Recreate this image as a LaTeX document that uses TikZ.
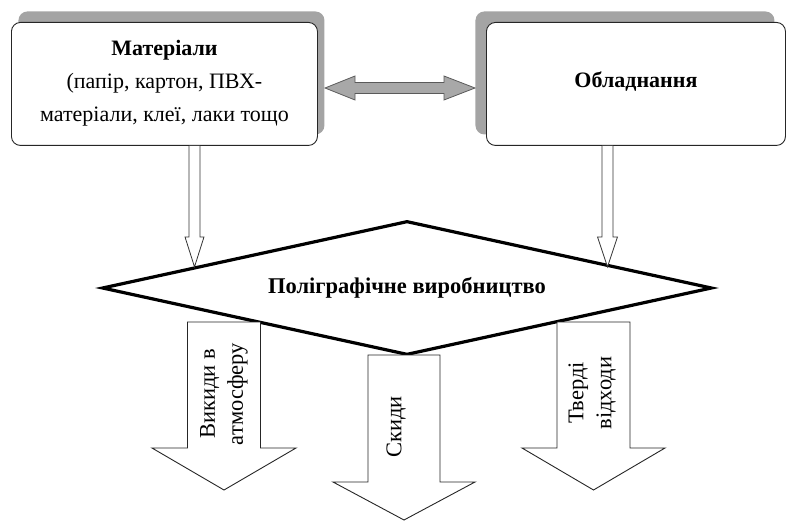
\documentclass[tikz,border=0pt]{standalone}
\usepackage{fontspec}
\setmainfont{Liberation Serif}
\usetikzlibrary{shapes.geometric,shadows,calc}
\definecolor{shadowgray}{HTML}{A4A4A4}
\definecolor{arrgray}{HTML}{A8A8A8}
\definecolor{arrline}{HTML}{5A5A5A}
\tikzset{
  box/.style={draw=black!85, line width=0.9pt, fill=white, rounded corners=9pt,
    minimum height=123pt, anchor=north west, align=center, inner sep=0pt,
    font=\fontsize{22}{33}\selectfont},
  thinarr/.style={draw=black!80, line width=0.8pt, fill=white},
  bigarr/.style={draw=black!85, line width=0.9pt, fill=white},
  arrtext/.style={rotate=90, align=center, inner sep=0pt,
    font=\fontsize{22.5}{28}\selectfont},
  dblarr/.style={draw=arrline, line width=0.8pt, fill=arrgray},
  proc/.style={diamond, aspect=4.55, draw=black, line width=3.2pt, fill=white,
    minimum width=610pt, minimum height=134pt, inner sep=0pt,
    font=\bfseries\fontsize{22.5}{26}\selectfont}
}
\begin{document}
\begin{tikzpicture}[x=1pt,y=-1pt]
\useasboundingbox (0,0) rectangle (786,521);
% boxes
\node[box, minimum width=306pt,
  general shadow={fill=shadowgray, shadow xshift=7pt, shadow yshift=11pt}]
  (mat) at (11,22) {\textbf{Матеріали}\\(папір, картон, ПВХ-\\матеріали, клеї, лаки тощо\\[-27pt]};
\node[box, minimum width=299pt,
  general shadow={fill=shadowgray, shadow xshift=-11pt, shadow yshift=11pt}]
  (obl) at (486,22) {\textbf{Обладнання}\\[-24pt]};
% double arrow between the boxes
\coordinate (dl) at (325,88);
\coordinate (dr) at (475,88);
\draw[dblarr] (dl) -- ++(30,-12) -- ++(0,6.5) -- ($(dr)+(-31,-5.5)$) -- ++(0,-6.5)
  -- (dr) -- ++(-31,12) -- ++(0,-6.5) -- ($(dl)+(30,5.5)$) -- ++(0,6.5) -- cycle;
% diamond
\node[proc] (pv) at (407,288) {Поліграфічне виробництво};
% thin arrows from boxes to the diamond
\coordinate (a1) at (194.5,0 |- mat.south);
\coordinate (a2) at (607.5,0 |- obl.south);
\draw[thinarr] ($(a1)+(-5.5,0)$) -- ++(0,91) -- ++(-4,0) -- ++(9.5,30) -- ++(9.5,-30)
  -- ++(-4,0) -- ++(0,-91);
\draw[thinarr] ($(a2)+(-5.5,0)$) -- ++(0,91) -- ++(-4.5,0) -- ++(10,30) -- ++(10,-30)
  -- ++(-4.5,0) -- ++(0,-91);
% big output arrows
\coordinate (b1) at (224,322);
\coordinate (b2) at (404,355);
\coordinate (b3) at (593.5,322);
\draw[bigarr] ($(b1)+(-36.5,0)$) -- ++(0,126) -- ++(-35.5,0) -- ++(72,42) -- ++(72,-42)
  -- ++(-35.5,0) -- ++(0,-126) -- cycle;
\draw[bigarr] ($(b2)+(-36,0)$) -- ++(0,127) -- ++(-35,0) -- ++(71,38) -- ++(71,-38)
  -- ++(-35,0) -- ++(0,-127) -- cycle;
\draw[bigarr] ($(b3)+(-36.5,0)$) -- ++(0,126) -- ++(-35,0) -- ++(71.5,42) -- ++(71.5,-42)
  -- ++(-35,0) -- ++(0,-126) -- cycle;
\node[arrtext] (t1) at (224,394) {Викиди в\\атмосферу};
\node[arrtext] (t2) at (396,427) {Скиди};
\node[arrtext] (t3) at (592,393) {Тверді\\відходи};
\end{tikzpicture}
\end{document}
